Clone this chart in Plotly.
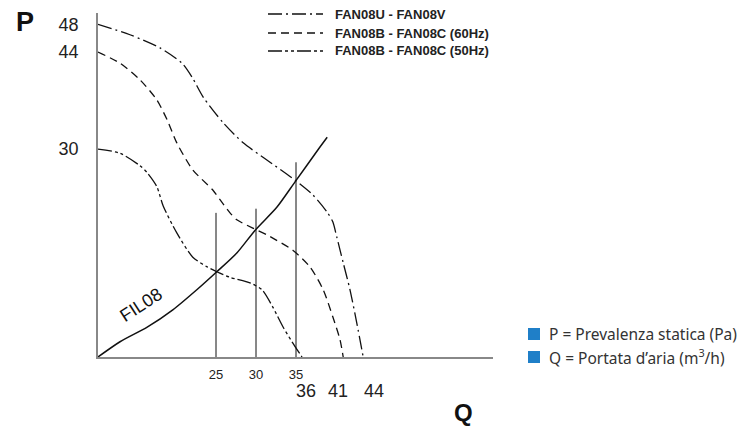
import plotly.graph_objects as go

# ---- data ----
fan_u_q = [10.25, 14.25, 18.0, 20.75, 22.0, 23.4, 25.9, 28.4, 31.4, 34.9, 37.1, 38.9, 39.6, 40.1, 40.9, 41.75, 42.6, 43.4]
fan_u_p = [48.0, 46.5, 44.6, 42.4, 40.4, 37.5, 33.8, 30.9, 28.4, 25.5, 23.4, 20.9, 19.5, 17.3, 13.6, 9.7, 4.9, 0.0]

fan_60_q = [10.25, 13.0, 15.5, 17.6, 18.9, 20.1, 22.1, 24.6, 25.5, 26.75, 27.6, 29.6, 31.4, 34.6, 36.75, 38.4, 39.6, 40.5, 40.9]
fan_60_p = [44.0, 42.4, 40.0, 37.1, 34.2, 30.9, 27.0, 24.1, 22.7, 20.8, 19.8, 18.6, 17.6, 15.4, 13.0, 9.7, 5.8, 2.5, 0.0]

fan_50_q = [10.25, 13.0, 15.5, 16.4, 17.6, 18.4, 20.1, 22.1, 23.9, 25.1, 26.75, 29.25, 30.75, 32.1, 33.4, 34.5, 35.75]
fan_50_p = [30.0, 29.4, 27.6, 26.6, 24.6, 21.8, 17.9, 14.4, 13.0, 12.3, 11.5, 10.7, 9.7, 7.2, 4.3, 2.2, 0.0]

fil_q = [10.25, 13.0, 16.4, 19.6, 22.6, 25.1, 27.6, 29.9, 32.6, 34.9, 37.75, 38.9]
fil_p = [0.0, 2.2, 4.3, 6.8, 9.7, 12.3, 15.0, 18.3, 21.6, 25.3, 29.9, 31.7]

vline_q = [25, 30, 35]
vline_top = [20.8, 21.4, 28.1]

p_ticks = [30, 44, 48]
q_ticks = [25, 30, 35]
q_max_labels = [36, 41, 44]

series_names = ["FAN08U - FAN08V", "FAN08B - FAN08C (60Hz)", "FAN08B - FAN08C (50Hz)"]

# ---- layout geometry (pixels) ----
W, H = 743, 428
L, R, T, B = 98, 493, 13, 357
Q0, QPX = 10.25, 8.0        # Q at left edge, px per unit
PPX = 6.93                  # px per unit of P

def px(x):
    return (x - L) / (R - L)

def py(y):
    return (B - y) / (B - T)

fig = go.Figure()

dashes = ["14px,4px,2px,4px", "8px,5px", "14px,3px,3px,3px,3px,3px"]
for q, p, name, d in zip([fan_u_q, fan_60_q, fan_50_q], [fan_u_p, fan_60_p, fan_50_p], series_names, dashes):
    fig.add_trace(go.Scatter(x=q, y=p, mode="lines", name=name, showlegend=False,
                             line=dict(color="#111", width=1.3, dash=d, shape="spline", smoothing=0.7)))

fig.add_trace(go.Scatter(x=fil_q, y=fil_p, mode="lines", showlegend=False,
                         line=dict(color="#111", width=1.5, shape="spline", smoothing=0.7)))

for q, top in zip(vline_q, vline_top):
    fig.add_trace(go.Scatter(x=[q, q], y=[0, top], mode="lines", showlegend=False,
                             line=dict(color="#111", width=1)))

arial = "Liberation Sans, Arial, sans-serif"

fig.update_layout(
    width=W, height=H,
    margin=dict(l=L, r=W - R, t=T, b=H - B, autoexpand=False),
    paper_bgcolor="white", plot_bgcolor="white",
    showlegend=False,
    xaxis=dict(range=[Q0, Q0 + (R - L) / QPX], showgrid=False, zeroline=False,
               showline=True, linecolor="#888", linewidth=1.5,
               tickvals=q_ticks, ticks="outside", ticklen=5, tickcolor="rgba(0,0,0,0)",
               tickfont=dict(family=arial, size=13, color="#222")),
    yaxis=dict(range=[0, (B - T) / PPX], showgrid=False, zeroline=False,
               showline=True, linecolor="#888", linewidth=1.5,
               tickvals=p_ticks, ticks="outside", ticklen=14, tickcolor="rgba(0,0,0,0)",
               tickfont=dict(family=arial, size=18, color="#222")),
)

# line-style key at the top
for name, d, cy in zip(series_names, dashes, [14, 33, 51]):
    fig.add_shape(type="line", xref="paper", yref="paper",
                  x0=px(268), x1=px(323), y0=py(cy), y1=py(cy),
                  line=dict(color="#111", width=1.3, dash=d))
    fig.add_annotation(x=px(333), y=py(cy), xref="paper", yref="paper", text=f"<b>{name}</b>",
                       showarrow=False, xanchor="left", yanchor="middle",
                       font=dict(family=arial, size=13, color="#222"))

for v, xs in zip(q_max_labels, [2, -6, 6]):
    fig.add_annotation(x=v, y=0, xref="x", yref="y", text=str(v), showarrow=False,
                       yanchor="middle", yshift=-(391 - B), xshift=xs,
                       font=dict(family=arial, size=18, color="#222"))

fig.add_annotation(x=15.6, y=7.5, xref="x", yref="y", text="FIL08", showarrow=False,
                   textangle=-33, font=dict(family=arial, size=18, color="#111"))

fig.add_annotation(x=px(25), y=py(22), xref="paper", yref="paper", text="<b>P</b>",
                   showarrow=False, xanchor="center", yanchor="middle",
                   font=dict(family=arial, size=27, color="#111"))
fig.add_annotation(x=px(463), y=py(412), xref="paper", yref="paper", text="<b>Q</b>",
                   showarrow=False, xanchor="center", yanchor="middle",
                   font=dict(family=arial, size=24, color="#111"))

info = ["P = Prevalenza statica (Pa)", "Q = Portata d’aria (m<sup>3</sup>/h)"]
for txt, cy in zip(info, [334, 357]):
    fig.add_shape(type="rect", xref="paper", yref="paper",
                  x0=px(528), x1=px(540), y0=py(cy + 6), y1=py(cy - 6),
                  fillcolor="#1f7fc8", line=dict(width=0))
    fig.add_annotation(x=px(547), y=py(cy), xref="paper", yref="paper", text=txt,
                       showarrow=False, xanchor="left", yanchor="middle",
                       font=dict(family="Noto Sans", size=15.5, color="#333"))

fig.write_html("out.html", config={"displayModeBar": False},
               post_script="document.body.style.margin='0px';")
